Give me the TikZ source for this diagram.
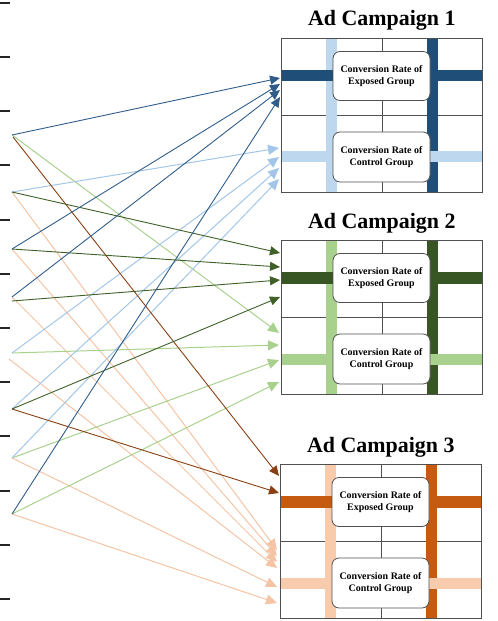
\documentclass[tikz,border=0pt]{standalone}
\usepackage{fontspec}
\setmainfont{Liberation Serif}
\usetikzlibrary{arrows.meta}
\definecolor{cAdark}{HTML}{1F4E79}
\definecolor{cAlight}{HTML}{BDD7EE}
\definecolor{cBdark}{HTML}{375623}
\definecolor{cBlight}{HTML}{A9D18E}
\definecolor{cCdark}{HTML}{C55A11}
\definecolor{cClight}{HTML}{F8CBAD}
\definecolor{aAdark}{HTML}{2F5D8A}
\definecolor{aAlight}{HTML}{A3C6E8}
\definecolor{aBdark}{HTML}{3F6128}
\definecolor{aBlight}{HTML}{A9D18E}
\definecolor{aCdark}{HTML}{8A4012}
\definecolor{aClight}{HTML}{F5C4A5}
\definecolor{gridc}{HTML}{505050}

\tikzset{
  gridline/.style={draw=gridc, line width=0.8bp},
  rbox/.style={draw=gridc, line width=0.8bp, fill=white, rounded corners=7bp,
    minimum width=97bp, minimum height=49bp, inner sep=0pt, align=center,
    font=\bfseries\fontsize{10}{11.5}\selectfont},
  paneltitle/.style={font=\bfseries\fontsize{22}{24}\selectfont, anchor=base, inner sep=0pt},
  conn/.style={line width=0.9bp, -{Triangle[length=10bp,width=9bp]}},
  connl/.style={line width=1bp, -{Triangle[length=11bp,width=10bp]}},
  tick/.style={draw=black!85, line width=2bp},
}

\newcommand\campaignpanel[6]{%
  % #1 prefix, #2 x, #3 y, #4 dark colour, #5 light colour, #6 number
  \begin{scope}[shift={(#2,#3)}]
    \draw[gridline] (101,0) -- (101,154);
    \draw[gridline] (0,77) -- (201,77);
    \fill[#5] (44.5,0) rectangle (56,154);
    \fill[#4] (145.5,0) rectangle (156.5,154);
    \fill[#4] (0,32) rectangle (201,43.5);
    \fill[#5] (0,113.5) rectangle (201,124.5);
    \draw[gridline] (0,0) rectangle (201,154);
    \node[rbox] (#1exp) at (100.5,38) {Conversion Rate of\\Exposed Group};
    \node[rbox, minimum height=50bp] (#1ctl) at (100.5,119) {Conversion Rate of\\Control Group};
    \node[paneltitle] (#1title) at (100.8,-12) {Ad Campaign #6};
  \end{scope}}

\begin{document}
\begin{tikzpicture}[x=1bp,y=-1bp]
\useasboundingbox (0,0) rectangle (498,621);

% left ticks
\foreach \ty in {2.7,56.9,111.1,165.3,219.5,273.7,327.9,382.1,436.3,490.5,544.7,598.9}
  \draw[tick] (0,\ty) -- (10,\ty);

% panels
\campaignpanel{A}{281}{38}{cAdark}{cAlight}{1}
\campaignpanel{B}{281}{240}{cBdark}{cBlight}{2}
\campaignpanel{C}{280}{464}{cCdark}{cClight}{3}

% sources
\coordinate (s1) at (12,135);
\coordinate (s1b) at (13,137);
\coordinate (s2) at (12,192);
\coordinate (s3) at (12,249);
\coordinate (s4) at (12,297);
\coordinate (s4b) at (12,301);
\coordinate (s5) at (12,353);
\coordinate (s5b) at (9,359);
\coordinate (s6) at (12,409);
\coordinate (s7) at (12,458);
\coordinate (s8) at (12,514);

% targets
\coordinate (tAe1) at (280,78);
\coordinate (tAe2) at (280,84);
\coordinate (tAe3) at (280,90);
\coordinate (tAe4) at (280,97);
\coordinate (tAc1) at (279,148);
\coordinate (tAc2) at (279,157);
\coordinate (tAc3) at (279,168);
\coordinate (tAc4) at (279,179);
\coordinate (tBe1) at (280,253);
\coordinate (tBe2) at (280,267);
\coordinate (tBe3) at (280,280);
\coordinate (tBe4) at (280,297);
\coordinate (tBc1) at (279,333);
\coordinate (tBc2) at (279,345);
\coordinate (tBc3) at (279,360);
\coordinate (tBc4) at (279,382);
\coordinate (tCe1) at (279,476);
\coordinate (tCe2) at (279,493);
\coordinate (tCc1) at (277,550);
\coordinate (tCc2) at (277,556);
\coordinate (tCc3) at (277,562);
\coordinate (tCc4) at (277,568);
\coordinate (tCc5) at (277,587);
\coordinate (tCc6) at (277,603);

% light connectors
\draw[connl, aClight] (s2) -- (tCc1);
\draw[connl, aClight] (s3) -- (tCc2);
\draw[connl, aClight] (s4) -- (tCc3);
\draw[connl, aClight] (s5b) -- (tCc4);
\draw[connl, aClight] (s7) -- (tCc5);
\draw[connl, aClight] (s8) -- (tCc6);
\draw[connl, aBlight] (s1) -- (tBc1);
\draw[connl, aBlight] (s5) -- (tBc2);
\draw[connl, aBlight] (s7) -- (tBc3);
\draw[connl, aBlight] (s8) -- (tBc4);
\draw[connl, aAlight] (s2) -- (tAc1);
\draw[connl, aAlight] (s5) -- (tAc2);
\draw[connl, aAlight] (s6) -- (tAc3);
\draw[connl, aAlight] (s7) -- (tAc4);
% dark connectors
\draw[conn, aCdark] (s1b) -- (tCe1);
\draw[conn, aCdark] (s6) -- (tCe2);
\draw[conn, aBdark] (s2) -- (tBe1);
\draw[conn, aBdark] (s3) -- (tBe2);
\draw[conn, aBdark] (s4b) -- (tBe3);
\draw[conn, aBdark] (s6) -- (tBe4);
\draw[conn, aAdark] (s1) -- (tAe1);
\draw[conn, aAdark] (s3) -- (tAe2);
\draw[conn, aAdark] (s4) -- (tAe3);
\draw[conn, aAdark] (s8) -- (tAe4);
\end{tikzpicture}
\end{document}
